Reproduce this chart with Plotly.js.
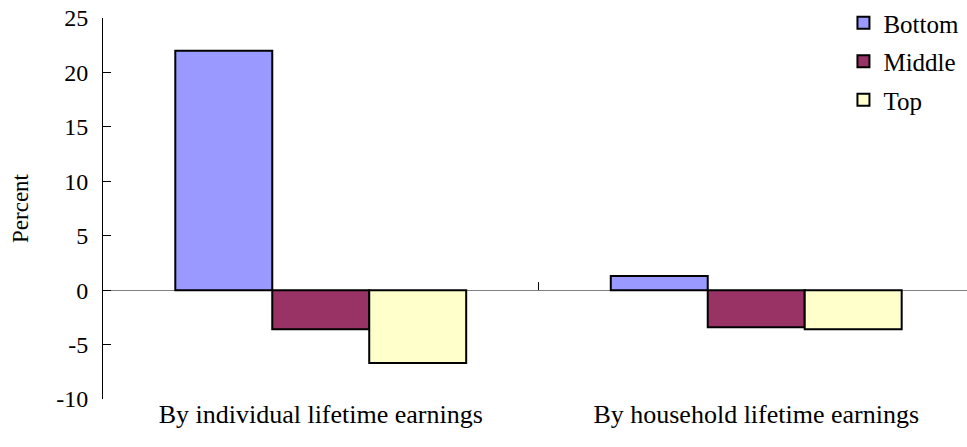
<!DOCTYPE html>
<html>
<head>
<meta charset="utf-8">
<script src="https://cdn.plot.ly/plotly-3.0.1.min.js"></script>
<style>html,body{margin:0;padding:0;background:#fff;}#chart{width:967px;height:447px;}</style>
</head>
<body>
<div id="chart"></div>
<script>
const categories = ["By individual lifetime earnings", "By household lifetime earnings"];
const seriesNames = ["Bottom", "Middle", "Top"];
const bottomValues = [22.0, 1.3];
const middleValues = [-3.6, -3.4];
const topValues = [-6.7, -3.6];
const yTickVals = [-10, -5, 0, 5, 10, 15, 20, 25];
const yTickText = ["-10", "-5", "0", "5", "10", "15", "20", "25"];

const colors = ["#9999FF", "#993366", "#FFFFCC"];
const seriesValues = [bottomValues, middleValues, topValues];
const FONT = "Liberation Serif, Times New Roman, serif";

const traces = seriesValues.map((vals, i) => ({
  type: "bar",
  name: seriesNames[i],
  x: categories,
  y: vals,
  legendgroup: "g" + i,
  marker: {color: colors[i], line: {color: "#000000", width: 2}},
  hoverinfo: "x+y+name"
}));

const layout = {
  width: 967, height: 447,
  margin: {l: 103, r: 0, t: 17, b: 48},
  paper_bgcolor: "#ffffff", plot_bgcolor: "#ffffff",
  font: {family: FONT, size: 24, color: "#000000"},
  barmode: "group", bargap: 0.332, bargroupgap: 0,
  showlegend: true,
  legend: {
    x: 0.857, xanchor: "left", y: 1.046, yanchor: "top",
    font: {family: FONT, size: 25, color: "#000"},
    bgcolor: "rgba(0,0,0,0)", tracegroupgap: 3, traceorder: "grouped"
  },
  xaxis: {
    type: "category",
    range: [-0.5, 1.484],
    showline: false, showgrid: false, zeroline: false,
    ticks: "", tickfont: {family: FONT, size: 26},
    ticklabelstandoff: -3
  },
  yaxis: {
    range: [-10, 25],
    tickmode: "array", tickvals: yTickVals, ticktext: yTickText,
    ticks: "inside", ticklen: 8, tickcolor: "#000", tickwidth: 1,
    ticklabelstandoff: 9,
    showline: true, linecolor: "#000", linewidth: 1,
    showgrid: false,
    zeroline: true, zerolinecolor: "#808080", zerolinewidth: 1,
    tickfont: {family: FONT, size: 24},
    title: {text: "Percent", font: {family: FONT, size: 23}, standoff: 21}
  },
  shapes: [{
    type: "line", xref: "x", yref: "y", x0: 0.5, x1: 0.5,
    ysizemode: "pixel", yanchor: 0, y0: 0, y1: 8,
    line: {color: "#000", width: 1}
  }]
};

Plotly.newPlot("chart", traces, layout, {displayModeBar: false, staticPlot: true});
</script>
</body>
</html>
